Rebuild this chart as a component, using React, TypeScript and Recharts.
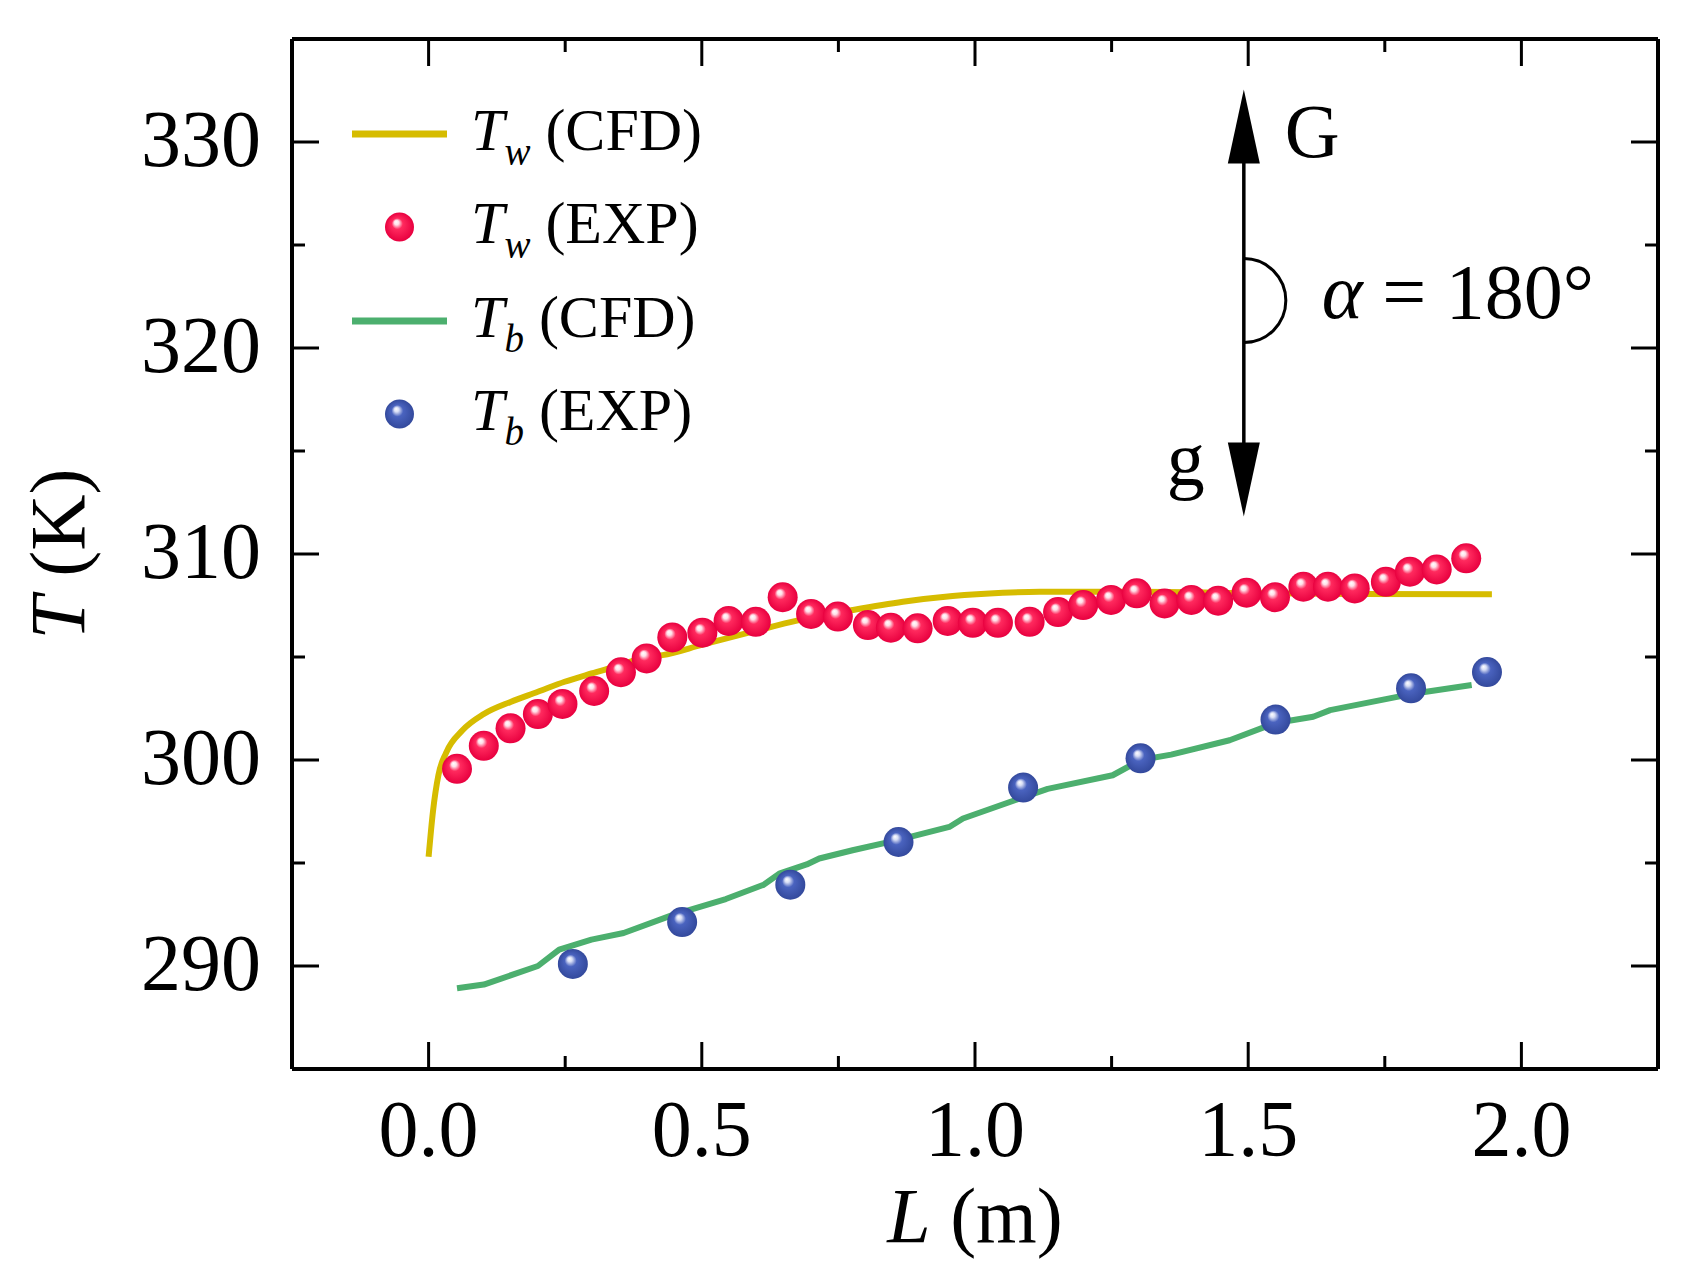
import React from "react";
import {
  ComposedChart,
  Line,
  Scatter,
  XAxis,
  YAxis,
  ReferenceLine,
  ReferenceDot,
} from "recharts";

// ---------- data ----------
const TW_CFD_L = [0, 0.008, 0.018, 0.032, 0.062, 0.101, 0.15, 0.2, 0.249, 0.298, 0.35, 0.397, 0.428, 0.501, 0.593, 0.678, 0.776, 0.868, 0.959, 1.051, 1.118, 1.3, 1.5, 1.7, 1.946];
const TW_CFD_T = [295.3, 297.5, 299.27, 300.35, 301.44, 302.23, 302.82, 303.31, 303.8, 304.2, 304.6, 304.99, 305.09, 305.6, 306.23, 306.79, 307.28, 307.68, 307.96, 308.12, 308.17, 308.17, 308.1, 308.06, 308.05];

const TW_EXP_L = [0.052, 0.101, 0.15, 0.2, 0.245, 0.303, 0.352, 0.399, 0.446, 0.501, 0.549, 0.599, 0.648, 0.7, 0.749, 0.804, 0.846, 0.895, 0.95, 0.996, 1.042, 1.1, 1.152, 1.198, 1.249, 1.296, 1.347, 1.396, 1.445, 1.497, 1.549, 1.601, 1.646, 1.695, 1.752, 1.796, 1.845, 1.899];
const TW_EXP_T = [299.57, 300.69, 301.54, 302.23, 302.72, 303.35, 304.26, 304.93, 305.95, 306.18, 306.75, 306.71, 307.9, 307.09, 306.96, 306.55, 306.42, 306.39, 306.75, 306.66, 306.66, 306.71, 307.18, 307.52, 307.77, 308.09, 307.6, 307.77, 307.73, 308.12, 307.9, 308.41, 308.41, 308.33, 308.65, 309.14, 309.25, 309.79];

const TB_CFD_L = [0.052, 0.101, 0.2, 0.239, 0.298, 0.357, 0.446, 0.544, 0.613, 0.643, 0.692, 0.715, 0.776, 0.856, 0.953, 0.978, 1.082, 1.133, 1.252, 1.303, 1.359, 1.466, 1.55, 1.619, 1.65, 1.798, 1.909];
const TB_CFD_T = [288.92, 289.1, 290.0, 290.8, 291.28, 291.6, 292.47, 293.25, 293.94, 294.5, 294.93, 295.22, 295.62, 296.1, 296.75, 297.16, 298.13, 298.6, 299.26, 300.0, 300.26, 300.96, 301.8, 302.1, 302.42, 303.2, 303.64];

const TB_EXP_L = [0.264, 0.464, 0.662, 0.86, 1.088, 1.303, 1.55, 1.798, 1.937];
const TB_EXP_T = [290.1, 292.13, 293.95, 296.02, 298.66, 300.08, 301.96, 303.48, 304.27];

const X_TICKS = [0, 0.25, 0.5, 0.75, 1, 1.25, 1.5, 1.75, 2];
const Y_TICKS = [290, 295, 300, 305, 310, 315, 320, 325, 330];
const X_DOMAIN = [-0.25, 2.25];
const Y_DOMAIN = [285, 335];

const ARROW_L = 1.492;
const ARROW_T = 322.3;

const LEGEND_ITEMS = [
  { kind: "line", color: "#D6BC00", sub: "w", tag: "(CFD)" },
  { kind: "dot", grad: "sphereRed", sub: "w", tag: "(EXP)" },
  { kind: "line", color: "#4CAF6E", sub: "b", tag: "(CFD)" },
  { kind: "dot", grad: "sphereBlue", sub: "b", tag: "(EXP)" },
];

const zip = (xs: number[], ys: number[]) => xs.map((L, i) => ({ L, T: ys[i] }));
const twCfd = zip(TW_CFD_L, TW_CFD_T);
const twExp = zip(TW_EXP_L, TW_EXP_T);
const tbCfd = zip(TB_CFD_L, TB_CFD_T);
const tbExp = zip(TB_EXP_L, TB_EXP_T);

// ---------- layout ----------
const W = 1679;
const H = 1271;
const MARGIN = { top: 31, right: 29, left: 0, bottom: 60 };
const Y_AXIS_W = 284;
const X_AXIS_H = 150;
const PLOT = {
  left: MARGIN.left + Y_AXIS_W,
  right: W - MARGIN.right,
  top: MARGIN.top,
  bottom: H - MARGIN.bottom - X_AXIS_H,
};
const FONT = '"Liberation Serif", "Times New Roman", serif';
const DOT_R = 15;

const XTick = (props: any) => {
  const { x, y, payload } = props;
  const v = payload.value;
  const major = Math.abs(v * 2 - Math.round(v * 2)) < 1e-6;
  const len = major ? 27 : 13;
  return (
    <g>
      <line x1={x} y1={y} x2={x} y2={y - len} stroke="#000" strokeWidth={3} />
      <line x1={x} y1={PLOT.top} x2={x} y2={PLOT.top + len} stroke="#000" strokeWidth={3} />
      {major && (
        <text x={x} y={y + 87} textAnchor="middle" fontSize={80} fontFamily={FONT} fill="#000">
          {v.toFixed(1)}
        </text>
      )}
    </g>
  );
};

const YTick = (props: any) => {
  const { x, y, payload } = props;
  const v = payload.value;
  const major = v % 10 === 0;
  const len = major ? 27 : 13;
  return (
    <g>
      <line x1={x} y1={y} x2={x + len} y2={y} stroke="#000" strokeWidth={3} />
      <line x1={PLOT.right} y1={y} x2={PLOT.right - len} y2={y} stroke="#000" strokeWidth={3} />
      {major && (
        <text x={x - 31} y={y + 24} textAnchor="end" fontSize={80} fontFamily={FONT} fill="#000">
          {v}
        </text>
      )}
    </g>
  );
};

const XTitle = () => (
  <text
    x={(PLOT.left + PLOT.right) / 2}
    y={PLOT.bottom + 173}
    textAnchor="middle"
    fontSize={78}
    fontFamily={FONT}
    fill="#000"
  >
    <tspan fontStyle="italic">L</tspan>
    <tspan> (m)</tspan>
  </text>
);

const YTitle = () => {
  const cx = 76;
  const cy = (PLOT.top + PLOT.bottom) / 2;
  return (
    <text
      x={cx}
      y={cy}
      transform={`rotate(-90, ${cx}, ${cy})`}
      textAnchor="middle"
      fontSize={78}
      fontFamily={FONT}
      fill="#000"
    >
      <tspan fontStyle="italic">T</tspan>
      <tspan> (K)</tspan>
    </text>
  );
};

const sphere = (grad: string) => (props: any) => {
  const { cx, cy } = props;
  if (cx == null || cy == null) return <g />;
  return <circle cx={cx} cy={cy} r={DOT_R} fill={`url(#${grad})`} />;
};

const GravityMark = (props: any) => {
  const { cx, cy } = props;
  return (
    <g>
      <line x1={cx} y1={cy - 140} x2={cx} y2={cy + 144} stroke="#000" strokeWidth={3.5} />
      <polygon points={`${cx},${cy - 211} ${cx - 16},${cy - 137} ${cx + 16},${cy - 137}`} fill="#000" />
      <polygon points={`${cx},${cy + 216} ${cx - 16},${cy + 142} ${cx + 16},${cy + 142}`} fill="#000" />
      <path d={`M ${cx} ${cy - 42} A 42 42 0 0 1 ${cx} ${cy + 42}`} fill="none" stroke="#000" strokeWidth={3} />
      <text x={cx + 41} y={cy - 144} fontSize={76} fontFamily={FONT} fill="#000">G</text>
      <text x={cx - 77} y={cy + 184} fontSize={76} fontFamily={FONT} fill="#000">g</text>
      <text x={cx + 78} y={cy + 17} fontSize={78} fontFamily={FONT} fill="#000">
        <tspan fontStyle="italic">α</tspan>
        <tspan> = 180°</tspan>
      </text>
    </g>
  );
};

const Legend = () => (
  <div
    style={{
      position: "absolute",
      left: 344,
      top: 79,
      fontFamily: FONT,
      fontSize: 60,
      color: "#000",
    }}
  >
    {LEGEND_ITEMS.map((it, i) => (
      <div key={i} style={{ display: "flex", alignItems: "center", height: 93.5 }}>
        <svg width={95} height={34} style={{ display: "block" }}>
          {it.kind === "line" ? (
            <line x1={0} y1={17} x2={95} y2={17} stroke={it.color} strokeWidth={7} />
          ) : (
            <circle cx={47.5} cy={17} r={14.5} fill={`url(#${it.grad})`} />
          )}
        </svg>
        <span style={{ marginLeft: 24, lineHeight: 1, whiteSpace: "nowrap", position: "relative", top: -4 }}>
          <i>T</i>
          <span style={{ fontSize: 39, fontStyle: "italic", position: "relative", top: 15 }}>{it.sub}</span>
          <span> {it.tag}</span>
        </span>
      </div>
    ))}
  </div>
);

export default function App() {
  return (
    <div style={{ position: "relative", width: W, height: H, background: "#fff" }}>
      <svg width={0} height={0} style={{ position: "absolute" }}>
        <defs>
          <radialGradient id="sphereRed" cx="0.5" cy="0.5" r="0.5" fx="0.38" fy="0.32">
            <stop offset="0" stopColor="#ffffff" />
            <stop offset="0.16" stopColor="#ffe0e8" />
            <stop offset="0.38" stopColor="#ff2a5e" />
            <stop offset="1" stopColor="#e8003f" />
          </radialGradient>
          <radialGradient id="sphereBlue" cx="0.5" cy="0.5" r="0.5" fx="0.38" fy="0.32">
            <stop offset="0" stopColor="#ffffff" />
            <stop offset="0.16" stopColor="#d8def5" />
            <stop offset="0.4" stopColor="#4a63bf" />
            <stop offset="1" stopColor="#33499c" />
          </radialGradient>
        </defs>
      </svg>
      <ComposedChart width={W} height={H} margin={MARGIN}>
        <XAxis
          type="number"
          dataKey="L"
          domain={X_DOMAIN}
          allowDataOverflow
          ticks={X_TICKS}
          interval={0}
          tickSize={0}
          tickMargin={0}
          tickLine={false}
          tick={<XTick />}
          height={X_AXIS_H}
          axisLine={{ stroke: "#000", strokeWidth: 4 }}
          label={<XTitle />}
        />
        <YAxis
          type="number"
          dataKey="T"
          domain={Y_DOMAIN}
          allowDataOverflow
          ticks={Y_TICKS}
          interval={0}
          tickSize={0}
          tickMargin={0}
          tickLine={false}
          tick={<YTick />}
          width={Y_AXIS_W}
          axisLine={{ stroke: "#000", strokeWidth: 4 }}
          label={<YTitle />}
        />
        <ReferenceLine y={Y_DOMAIN[1]} stroke="#000" strokeWidth={4} />
        <ReferenceLine x={X_DOMAIN[1]} stroke="#000" strokeWidth={4} />
        <Line
          data={twCfd}
          dataKey="T"
          type="monotone"
          stroke="#D6BC00"
          strokeWidth={6}
          dot={false}
          activeDot={false}
          isAnimationActive={false}
        />
        <Line
          data={tbCfd}
          dataKey="T"
          type="linear"
          stroke="#4CAF6E"
          strokeWidth={6}
          strokeLinejoin="round"
          dot={false}
          activeDot={false}
          isAnimationActive={false}
        />
        <Scatter data={twExp} dataKey="T" shape={sphere("sphereRed")} isAnimationActive={false} />
        <Scatter data={tbExp} dataKey="T" shape={sphere("sphereBlue")} isAnimationActive={false} />
        <ReferenceDot x={ARROW_L} y={ARROW_T} shape={GravityMark} />
      </ComposedChart>
      <Legend />
    </div>
  );
}
